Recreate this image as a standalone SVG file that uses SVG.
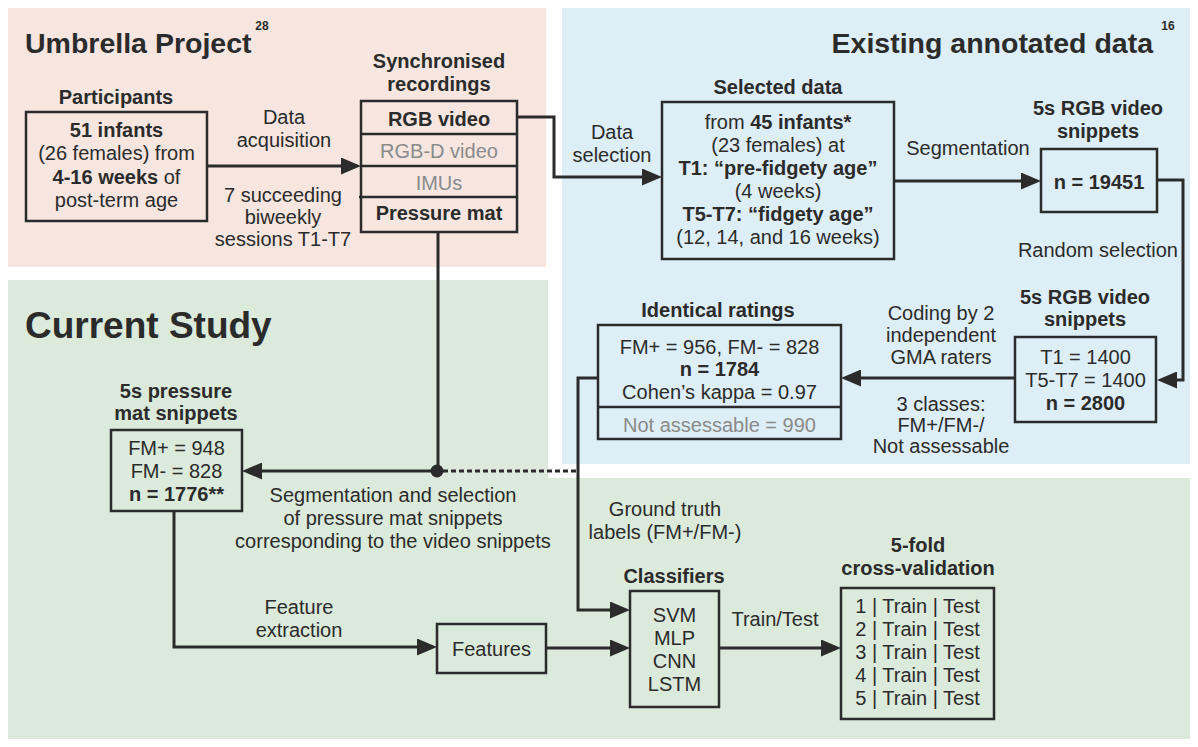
<svg xmlns="http://www.w3.org/2000/svg" width="1198" height="747" viewBox="0 0 1198 747">
<defs>
<style>
text{font-family:"Liberation Sans",Arial,Helvetica,sans-serif;fill:#2b2b2b;font-size:20px}
.b{font-weight:bold}
.m{text-anchor:middle}
.g{fill:#8a8a8a}
.box{fill:none;stroke:#2b2b2b;stroke-width:2.5}
.ln{fill:none;stroke:#2b2b2b;stroke-width:3}
.arr{marker-end:url(#ah)}
.h1{font-weight:bold;font-size:28.5px}
.sup{font-weight:bold;font-size:12px;text-anchor:middle}
</style>
<marker id="ah" viewBox="0 0 20 17" refX="15" refY="8.5" markerWidth="20" markerHeight="17" markerUnits="userSpaceOnUse" orient="auto">
<path d="M0,0 L20,8.5 L0,17 Z" fill="#2b2b2b"/>
</marker>
</defs>

<g id="panels">
<rect x="8" y="8" width="538" height="259" fill="#f6e6df"/>
<rect x="562" y="8" width="628" height="456" fill="#deeef7"/>
<path d="M8,280 H548 V478 H1190 V739 H8 Z" fill="#dbeadb"/>
</g>

<g id="titles">
<text x="25" y="53" class="h1">Umbrella Project</text>
<text x="262" y="30" class="sup">28</text>
<text x="1153" y="53" class="h1" text-anchor="end">Existing annotated data</text>
<text x="1168" y="30" class="sup">16</text>
<text x="25" y="338" class="b" style="font-size:37px">Current Study</text>
</g>

<g id="connectors">
<path class="ln arr" d="M207,166 H356"/>
<path class="ln arr" d="M517,117 H554 V177 H657"/>
<path class="ln arr" d="M894,181 H1036"/>
<path class="ln arr" d="M1157,180 H1183 V380 H1162"/>
<path class="ln arr" d="M1015,378 H846"/>
<path class="ln" d="M438,232 V471"/>
<path class="ln arr" d="M437,471 H247"/>
<path fill="none" stroke="#2b2b2b" stroke-width="3" stroke-dasharray="5 3" d="M443,471 H578"/>
<circle cx="437" cy="471" r="6.5" fill="#2b2b2b"/>
<path class="ln arr" d="M598,378 H578 V610 H625"/>
<path class="ln arr" d="M174,511 V647 H432"/>
<path class="ln arr" d="M546,648 H625"/>
<path class="ln arr" d="M719,648 H836"/>
</g>

<g id="edge-labels">
<text x="284" y="124" class="m">Data</text>
<text x="284" y="147" class="m">acquisition</text>
<text x="283" y="202" class="m">7 succeeding</text>
<text x="283" y="224" class="m">biweekly</text>
<text x="283" y="246" class="m">sessions T1-T7</text>
<text x="612" y="139" class="m">Data</text>
<text x="612" y="162" class="m">selection</text>
<text x="968" y="155" class="m">Segmentation</text>
<text x="1178" y="257" text-anchor="end">Random selection</text>
<text x="941" y="320" class="m">Coding by 2</text>
<text x="941" y="342" class="m">independent</text>
<text x="941" y="364" class="m">GMA raters</text>
<text x="941" y="411" class="m">3 classes:</text>
<text x="941" y="432" class="m">FM+/FM-/</text>
<text x="941" y="453" class="m">Not assessable</text>
<text x="393" y="502" class="m">Segmentation and selection</text>
<text x="393" y="525" class="m">of pressure mat snippets</text>
<text x="393" y="548" class="m">corresponding to the video snippets</text>
<text x="665" y="516" class="m">Ground truth</text>
<text x="665" y="539" class="m">labels (FM+/FM-)</text>
<text x="299" y="614" class="m">Feature</text>
<text x="299" y="637" class="m">extraction</text>
<text x="775" y="626" class="m">Train/Test</text>
</g>

<g id="participants">
<text x="116" y="104" class="b m">Participants</text>
<rect x="26" y="112" width="181" height="109" class="box"/>
<text x="116.5" y="137" class="b m">51 infants</text>
<text x="116.5" y="160" class="m">(26 females) from</text>
<text x="116.5" y="184" class="m"><tspan class="b">4-16 weeks</tspan> of</text>
<text x="116.5" y="207" class="m">post-term age</text>
</g>

<g id="synchronised-recordings">
<text x="439" y="68" class="b m">Synchronised</text>
<text x="439" y="91" class="b m">recordings</text>
<rect x="361" y="101" width="156" height="131" class="box"/>
<path d="M361,134 H517 M361,166 H517 M359,197 H516" stroke="#2b2b2b" stroke-width="2.5" fill="none"/>
<text x="439" y="126" class="b m">RGB video</text>
<text x="439" y="158" class="m g">RGB-D video</text>
<text x="439" y="190" class="m g">IMUs</text>
<text x="439" y="220" class="b m">Pressure mat</text>
</g>

<g id="selected-data">
<text x="778" y="94" class="b m">Selected data</text>
<rect x="662" y="102" width="232" height="157" class="box"/>
<text x="778" y="129" class="m">from <tspan class="b">45 infants*</tspan></text>
<text x="778" y="152" class="m">(23 females) at</text>
<text x="778" y="175" class="b m">T1: “pre-fidgety age”</text>
<text x="778" y="198" class="m">(4 weeks)</text>
<text x="778" y="221" class="b m">T5-T7: “fidgety age”</text>
<text x="778" y="244" class="m">(12, 14, and 16 weeks)</text>
</g>

<g id="rgb-snippets-all">
<text x="1098" y="115" class="b m">5s RGB video</text>
<text x="1098" y="138" class="b m">snippets</text>
<rect x="1041" y="149" width="116" height="63" class="box"/>
<text x="1099" y="189" class="b m">n = 19451</text>
</g>

<g id="rgb-snippets-selected">
<text x="1085" y="304" class="b m">5s RGB video</text>
<text x="1085" y="326" class="b m">snippets</text>
<rect x="1015" y="337" width="141" height="85" class="box"/>
<text x="1085.5" y="364" class="m">T1 = 1400</text>
<text x="1085.5" y="387" class="m">T5-T7 = 1400</text>
<text x="1085.5" y="410" class="b m">n = 2800</text>
</g>

<g id="identical-ratings">
<text x="718" y="317" class="b m">Identical ratings</text>
<rect x="598" y="325" width="243" height="114" class="box"/>
<text x="719.5" y="354" class="m">FM+ = 956, FM- = 828</text>
<text x="719.5" y="376" class="b m">n = 1784</text>
<text x="719.5" y="399" class="m">Cohen’s kappa = 0.97</text>
<path d="M598,407 H841" stroke="#2b2b2b" stroke-width="2.5"/>
<text x="719.5" y="432" class="m g">Not assessable = 990</text>
</g>

<g id="pressure-snippets">
<text x="176" y="398" class="b m">5s pressure</text>
<text x="176" y="420" class="b m">mat snippets</text>
<rect x="111" y="430" width="131" height="81" class="box"/>
<text x="176.5" y="455" class="m">FM+ = 948</text>
<text x="176.5" y="478" class="m">FM- = 828</text>
<text x="176.5" y="501" class="b m">n = 1776**</text>
</g>

<g id="features">
<rect x="437" y="624" width="109" height="49" class="box"/>
<text x="491.5" y="656" class="m">Features</text>
</g>

<g id="classifiers">
<text x="674" y="583" class="b m">Classifiers</text>
<rect x="630" y="591" width="89" height="116" class="box"/>
<text x="674.5" y="622" class="m">SVM</text>
<text x="674.5" y="645" class="m">MLP</text>
<text x="674.5" y="668" class="m">CNN</text>
<text x="674.5" y="691" class="m">LSTM</text>
</g>

<g id="cross-validation">
<text x="918" y="552" class="b m">5-fold</text>
<text x="918" y="575" class="b m">cross-validation</text>
<rect x="841" y="588" width="153" height="131" class="box"/>
<text x="917.5" y="613" class="m">1 | Train | Test</text>
<text x="917.5" y="636" class="m">2 | Train | Test</text>
<text x="917.5" y="659" class="m">3 | Train | Test</text>
<text x="917.5" y="682" class="m">4 | Train | Test</text>
<text x="917.5" y="705" class="m">5 | Train | Test</text>
</g>
</svg>
